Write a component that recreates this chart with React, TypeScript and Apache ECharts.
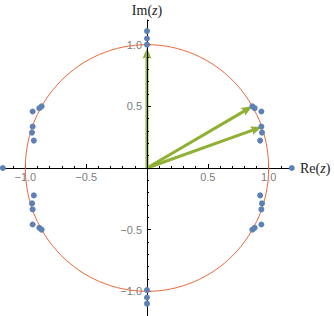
import React, { useEffect, useRef } from 'react';
import * as echarts from 'echarts';

// blue points (eigenvalues)
const pointX = [
  0.866, 0.885, 0.94, 0.94, 0.945, 0.93,
  -0.866, -0.885, -0.94, -0.94, -0.945, -0.93,
  -0.866, -0.885, -0.94, -0.94, -0.945, -0.93,
  0.866, 0.885, 0.94, 0.94, 0.945, 0.93,
  1.19, -1.185, 0, 0, 0, 0, 0, 0,
];
const pointY = [
  0.5, 0.485, 0.458, 0.336, 0.287, 0.222,
  0.5, 0.485, 0.458, 0.336, 0.287, 0.222,
  -0.5, -0.485, -0.458, -0.336, -0.287, -0.222,
  -0.5, -0.485, -0.458, -0.336, -0.287, -0.222,
  0, 0, 1.0, 1.05, 1.11, -0.99, -1.05, -1.1,
];

// green arrows from origin
const arrowX = [0, 0.866, 0.943];
const arrowY = [0.975, 0.5, 0.333];

// unit circle: center x, center y, radius
const circle = [0, 0, 1];

const axisMin = -1.2;
const axisMax = 1.2;
const majorTicks = [-1, -0.5, 0.5, 1];
const minorTicks = [
  -1.2, -1.1, -0.9, -0.8, -0.7, -0.6, -0.4, -0.3, -0.2, -0.1,
  0.1, 0.2, 0.3, 0.4, 0.6, 0.7, 0.8, 0.9, 1.1, 1.2,
];

const BLUE = '#5E81B5';
const ORANGE = '#E9683A';
const GREEN = '#8FB032';
const LABEL = '#555555';

const fmt = (v: number) => v.toFixed(1).replace('-', '\u2212');

export default function App() {
  const ref = useRef<HTMLDivElement>(null);
  useEffect(() => {
    if (!ref.current) return;
    const chart = echarts.init(ref.current, undefined, { renderer: 'svg' });
    const pts = pointX.map((x, i) => [x, pointY[i]]);
    const arrows = arrowX.map((x, i) => [x, arrowY[i]]);
    const xLabelData = majorTicks.map((v) => [v, 0]);
    const yLabelData = majorTicks.map((v) => [0, v]);
    const labelText = {
      color: LABEL,
      fontSize: 11,
      fontFamily: 'Liberation Sans',
    };
    const majorAxisCommon = {
      type: 'value' as const,
      min: axisMin,
      max: axisMax,
      z: 3,
      splitLine: { show: false },
      axisLine: { show: true, onZero: true, onZeroAxisIndex: 0, lineStyle: { color: '#000', width: 1 } },
      axisTick: { show: true, inside: true, length: 4, customValues: majorTicks, lineStyle: { color: '#000' } },
      axisLabel: { show: false },
    };
    const minorAxisCommon = {
      type: 'value' as const,
      min: axisMin,
      max: axisMax,
      z: 3,
      splitLine: { show: false },
      axisLine: { show: false, onZero: true, onZeroAxisIndex: 0 },
      axisTick: { show: true, inside: true, length: 2, customValues: minorTicks, lineStyle: { color: '#000' } },
      axisLabel: { show: false },
    };
    chart.setOption({
      animation: false,
      backgroundColor: '#fff',
      grid: { left: 1, width: 292, top: 20, height: 296, containLabel: false, outerBoundsMode: 'none' },
      xAxis: [
        { ...majorAxisCommon, position: 'bottom' },
        { ...minorAxisCommon, position: 'bottom' },
      ],
      yAxis: [
        { ...majorAxisCommon, position: 'left' },
        { ...minorAxisCommon, position: 'left' },
      ],
      graphic: [
        {
          type: 'text',
          x: 147,
          y: 10,
          style: {
            text: '{a|Im(}{b|z}{a|)}',
            align: 'center',
            verticalAlign: 'middle',
            rich: {
              a: { fontFamily: 'Liberation Serif', fontSize: 14, fill: '#222' },
              b: { fontFamily: 'Liberation Serif', fontStyle: 'italic', fontSize: 14, fill: '#222' },
            },
          },
        },
        {
          type: 'text',
          x: 300,
          y: 168,
          style: {
            text: '{a|Re(}{b|z}{a|)}',
            align: 'left',
            verticalAlign: 'middle',
            rich: {
              a: { fontFamily: 'Liberation Serif', fontSize: 14, fill: '#222' },
              b: { fontFamily: 'Liberation Serif', fontStyle: 'italic', fontSize: 14, fill: '#222' },
            },
          },
        },
      ],
      series: [
        {
          type: 'scatter',
          name: 'xTickLabels',
          xAxisIndex: 0,
          yAxisIndex: 0,
          z: 3,
          silent: true,
          symbolSize: 0,
          clip: false,
          data: xLabelData,
          label: {
            show: true,
            position: 'bottom',
            distance: 3,
            formatter: (p: any) => fmt(p.value[0]),
            ...labelText,
          },
        },
        {
          type: 'scatter',
          name: 'yTickLabels',
          xAxisIndex: 0,
          yAxisIndex: 0,
          z: 3,
          silent: true,
          symbolSize: 0,
          clip: false,
          data: yLabelData,
          label: {
            show: true,
            position: 'left',
            distance: 5,
            formatter: (p: any) => fmt(p.value[1]),
            ...labelText,
          },
        },
        {
          type: 'custom',
          coordinateSystem: 'cartesian2d',
          xAxisIndex: 0,
          yAxisIndex: 0,
          z: 1,
          silent: true,
          clip: false,
          data: arrows,
          renderItem: (params: any, api: any) => {
            const o = api.coord([0, 0]);
            const t = api.coord([api.value(0), api.value(1)]);
            const dx = t[0] - o[0];
            const dy = t[1] - o[1];
            const len = Math.hypot(dx, dy);
            const ux = dx / len;
            const uy = dy / len;
            const headL = 11;
            const headW = 4.5;
            const bx = t[0] - ux * headL;
            const by = t[1] - uy * headL;
            const px = -uy;
            const py = ux;
            return {
              type: 'group',
              children: [
                {
                  type: 'line',
                  shape: { x1: o[0], y1: o[1], x2: bx + ux * 3, y2: by + uy * 3 },
                  style: { stroke: GREEN, lineWidth: 3 },
                },
                {
                  type: 'polygon',
                  shape: {
                    points: [
                      [t[0], t[1]],
                      [bx + px * headW, by + py * headW],
                      [bx + ux * 2, by + uy * 2],
                      [bx - px * headW, by - py * headW],
                    ],
                  },
                  style: { fill: GREEN },
                },
              ],
            };
          },
        },
        {
          type: 'custom',
          coordinateSystem: 'cartesian2d',
          xAxisIndex: 0,
          yAxisIndex: 0,
          z: 4,
          silent: true,
          clip: false,
          data: [circle],
          renderItem: (params: any, api: any) => {
            const c = api.coord([api.value(0), api.value(1)]);
            const s = api.size([api.value(2), api.value(2)]);
            return {
              type: 'ellipse',
              shape: { cx: c[0], cy: c[1], rx: s[0], ry: s[1] },
              style: { fill: 'none', stroke: ORANGE, lineWidth: 1 },
            };
          },
        },
        {
          type: 'scatter',
          xAxisIndex: 0,
          yAxisIndex: 0,
          z: 5,
          symbolSize: 6,
          itemStyle: { color: BLUE, opacity: 1 },
          data: pts,
          clip: false,
        },
      ],
    });
    return () => chart.dispose();
  }, []);
  return (
    <div
      ref={ref}
      style={{ position: 'fixed', left: 0, top: 0, width: 334, height: 316, background: '#fff' }}
    />
  );
}
